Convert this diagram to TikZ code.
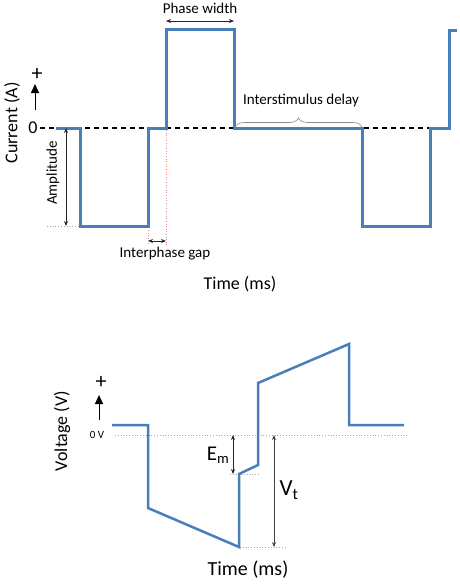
\documentclass[tikz,border=0pt]{standalone}
\usepackage{fontspec}
\setmainfont{Carlito}
\usetikzlibrary{arrows.meta,positioning,decorations.pathreplacing}
\definecolor{pulseblue}{HTML}{4A7EBB}
\definecolor{guidegray}{HTML}{A6A6A6}
\definecolor{gapred}{HTML}{F08A8A}
\definecolor{dimink}{HTML}{262626}
\tikzset{
  wave/.style={line width=3pt,draw=pulseblue,line join=miter},
  zeroline/.style={line width=1.1pt,dash pattern=on 5pt off 4pt,draw=black},
  guide/.style={line width=0.8pt,dotted,draw=guidegray},
  gapguide/.style={line width=0.6pt,dotted,draw=gapred},
  dim/.style={{Stealth[length=5pt,width=4pt]}-{Stealth[length=5pt,width=4pt]},line width=0.9pt,draw=dimink},
  polarity/.style={-{Triangle[length=9pt,width=8pt]},line width=1pt},
  plussign/.style={inner sep=0pt,font=\fontsize{22}{24}\selectfont},
  lbl/.style={inner sep=0pt,font=\fontsize{15}{17}\selectfont},
  axislbl/.style={inner sep=0pt,font=\fontsize{18}{20}\selectfont},
  biglbl/.style={inner sep=0pt,font=\fontsize{21}{24}\selectfont}
}

\begin{document}
\begin{tikzpicture}[x=1pt,y=-1pt]
  \useasboundingbox (0,0) rectangle (459,587);

  % current waveform
  \draw[zeroline] (40,128) -- (450,128);
  \draw[wave] (56,128) -- (80,128) -- (80,226) -- (148,226) -- (148,128) -- (166,128)
    -- (166,29) -- (234,29) -- (234,128) -- (362,128) -- (362,226) -- (430,226)
    -- (430,128) -- (449,128) -- (449,30) -- (457,30);

  \coordinate (pwl) at (166,21);
  \coordinate (pwr) at (234,21);
  \draw[dim] (pwl) -- (pwr);
  \node[lbl] (phaselbl) at (200,8) {Phase width};

  \draw[draw=black!45,line width=0.6pt,decorate,decoration={brace,amplitude=9pt}] (235,127) -- (362,127);
  \node[lbl] (isdlbl) at (301,100) {Interstimulus delay};

  \coordinate (ampt) at (66,128);
  \coordinate (ampb) at (66,226);
  \draw[guide] (47,226) -- (80,226);
  \draw[dim] (ampt) -- (ampb);
  \node[lbl,rotate=90] (amplbl) at (53,173) {Amplitude};

  \coordinate (gapl) at (148,241);
  \coordinate (gapr) at (166,241);
  \draw[gapguide] (148,230) -- (148,245);
  \draw[gapguide] (166,130) -- (166,245);
  \draw[dim] (gapl) -- (gapr);
  \node[lbl] (gaplbl) at (165,254) {Interphase gap};

  \node[axislbl] (timetop) at (240,284) {Time (ms)};
  \node[axislbl,rotate=90] (currentlbl) at (12,123) {Current (A)};
  \node[axislbl] (zerolbl) at (33,128) {0};
  \coordinate (cbase) at (35,110);
  \coordinate (ctip) at (35,84);
  \draw[polarity] (cbase) -- (ctip);
  \node[plussign] (cplus) at (37,74) {+};

  % voltage waveform
  \draw[guide] (115,435) -- (408,435);
  \draw[guide] (230,474) -- (260,474);
  \draw[guide] (240,547) -- (287,547);
  \draw[wave,line width=2.5pt] (112,425) -- (148,425) -- (148,508) -- (239,547) -- (239,474)
    -- (258,465) -- (258,383) -- (349,344) -- (349,425) -- (404,425);

  \coordinate (emt) at (233,435);
  \coordinate (emb) at (233,474);
  \draw[dim,line width=0.8pt] (emt) -- (emb);
  \node[biglbl] (emlbl) at (218,455) {E\textsubscript{m}};

  \coordinate (vtt) at (274,435);
  \coordinate (vtb) at (274,547);
  \draw[dim,line width=0.9pt,draw=black!75] (vtt) -- (vtb);
  \node[biglbl,font=\fontsize{23}{26}\selectfont] (vtlbl) at (289,490) {V\textsubscript{t}};

  \node[biglbl,font=\fontsize{20}{23}\selectfont] (timebot) at (248,570) {Time (ms)};
  \node[axislbl,rotate=90] (voltlbl) at (62,431) {Voltage (V)};
  \node[inner sep=0pt,font=\fontsize{11}{12}\selectfont] (zerovlbl) at (97,435) {0 V};
  \coordinate (vbase) at (99,420);
  \coordinate (vtip) at (99,395);
  \draw[polarity] (vbase) -- (vtip);
  \node[plussign] (vplus) at (101,382) {+};
\end{tikzpicture}
\end{document}
